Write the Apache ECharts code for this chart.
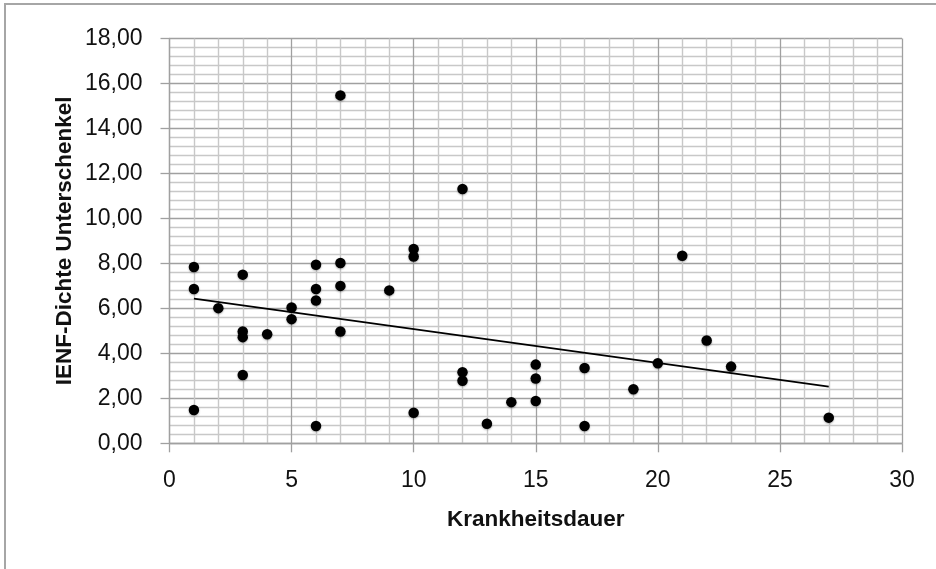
<!DOCTYPE html>
<html>
<head>
<meta charset="utf-8">
<script src="https://cdn.jsdelivr.net/npm/echarts@6/dist/echarts.min.js"></script>
<style>html,body{margin:0;padding:0;background:#fff}#c{width:936px;height:569px}</style>
</head>
<body>
<div id="c"></div>
<script>
// Krankheitsdauer (x) and IENF-Dichte Unterschenkel (y)
const durations = [1,1,1, 2, 3,3,3,3, 4, 5,5, 6,6,6,6, 7,7,7,7, 9, 10,10,10, 12,12,12, 13, 14, 15,15,15, 17,17, 19, 20, 21, 22, 23, 27];
const densities = [7.84,6.86,1.48, 6.01, 7.50,4.97,4.72,3.04, 4.85, 6.04,5.52, 7.94,6.86,6.35,0.77, 15.47,8.02,7.00,4.97, 6.80, 8.64,8.31,1.36, 11.31,3.16,2.78, 0.87, 1.83, 3.50,2.88,1.88, 3.35,0.77, 2.40, 3.56, 8.34, 4.57, 3.41, 1.14];
// linear trend line end points
const trendX = [1, 27];
const trendY = [6.43, 2.52];
const xTicks = [0,5,10,15,20,25,30];
const yTicks = [0,2,4,6,8,10,12,14,16,18];

const points = durations.map((d,i)=>[d, densities[i]]);
const trend = trendX.map((d,i)=>[d, trendY[i]]);

const chart = echarts.init(document.getElementById('c'), null, {renderer:'canvas'});
const font = 'Liberation Sans, Arial, sans-serif';
chart.setOption({
  backgroundColor:'#fff',
  animation:false,
  graphic:[{type:'rect', shape:{x:5,y:4,width:960,height:600}, style:{fill:'none', stroke:'#a6a6a6', lineWidth:2}, silent:true}],
  grid:{left:169.5, right:34, top:38.5, bottom:125.7},
  xAxis:{
    type:'value', min:xTicks[0], max:xTicks[xTicks.length-1], interval:5,
    name:'Krankheitsdauer', nameLocation:'middle', nameGap:65, nameMoveOverlap:false,
    nameTextStyle:{fontFamily:font, fontSize:22.5, fontWeight:'bold', color:'#111'},
    axisLine:{show:true, lineStyle:{color:'#a0a0a0', width:1.3}},
    axisTick:{show:true, length:9, lineStyle:{color:'#a0a0a0', width:1.3}},
    axisLabel:{margin:26, fontFamily:font, fontSize:23, color:'#111'},
    splitLine:{show:true, lineStyle:{color:'#a0a0a0', width:1.3}},
    minorTick:{show:false, splitNumber:5},
    minorSplitLine:{show:true, lineStyle:{color:'#c8c8c8', width:1.4}}
  },
  yAxis:{
    type:'value', min:yTicks[0], max:yTicks[yTicks.length-1], interval:2,
    name:'IENF-Dichte Unterschenkel', nameLocation:'middle', nameGap:93, nameRotate:90, nameMoveOverlap:false,
    nameTextStyle:{fontFamily:font, fontSize:22.5, fontWeight:'bold', color:'#111'},
    axisLine:{show:true, lineStyle:{color:'#a0a0a0', width:1.3}},
    axisTick:{show:true, length:9, lineStyle:{color:'#a0a0a0', width:1.3}},
    axisLabel:{margin:27, fontFamily:font, fontSize:23, color:'#111',
      formatter:v=>v.toFixed(2).replace('.',',')},
    splitLine:{show:true, lineStyle:{color:'#a0a0a0', width:1.3}},
    minorTick:{show:false, splitNumber:5},
    minorSplitLine:{show:true, lineStyle:{color:'#c8c8c8', width:1.4}}
  },
  series:[
    {type:'line', data:trend, symbol:'none', lineStyle:{color:'#000', width:1.7}, z:3},
    {type:'scatter', data:points, symbol:'circle', symbolSize:10.5,
     itemStyle:{color:'#000', opacity:1, shadowBlur:2, shadowColor:'rgba(0,0,0,0.3)', shadowOffsetY:1}, z:4}
  ]
});
</script>
</body>
</html>
